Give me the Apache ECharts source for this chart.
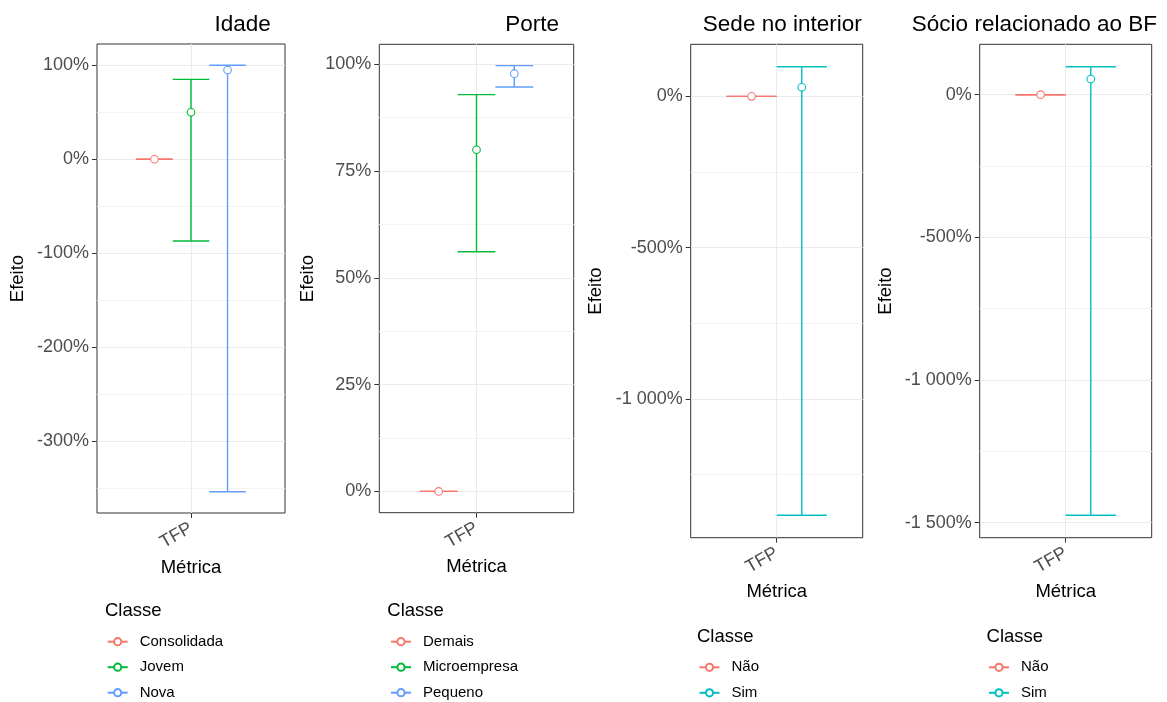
<!DOCTYPE html>
<html><head><meta charset="utf-8">
<script src="https://cdn.jsdelivr.net/npm/echarts@6/dist/echarts.min.js"></script>
<style>html,body{margin:0;padding:0;background:#fff}#c{width:1167px;height:702px}</style>
</head><body><div id="c"></div>
<script>
// ---- data ----
const categories = ['TFP'];

const idadeClasses = ['Consolidada', 'Jovem', 'Nova'];
const idadeMid  = [0, 50, 95];
const idadeLow  = [0, -87, -354];
const idadeHigh = [0, 85, 100];
const idadeTicks = [-300, -200, -100, 0, 100];
const idadeMinor = [-350, -250, -150, -50, 50];

const porteClasses = ['Demais', 'Microempresa', 'Pequeno'];
const porteMid  = [0, 80, 97.8];
const porteLow  = [0, 56.1, 94.7];
const porteHigh = [0, 92.9, 99.7];
const porteTicks = [0, 25, 50, 75, 100];
const porteMinor = [12.5, 37.5, 62.5, 87.5];

const sedeClasses = ['Não', 'Sim'];
const sedeMid  = [0, 30];
const sedeLow  = [0, -1385];
const sedeHigh = [0, 98];
const sedeTicks = [-1000, -500, 0];
const sedeMinor = [-1250, -750, -250];

const socioClasses = ['Não', 'Sim'];
const socioMid  = [0, 55];
const socioLow  = [0, -1474];
const socioHigh = [0, 98];
const socioTicks = [-1500, -1000, -500, 0];
const socioMinor = [-1250, -750, -250];

const hue3 = ['#F8766D', '#00BA38', '#619CFF'];
const hue2 = ['#F8766D', '#00BFC4'];

// ---- layout ----
const FONT = 'Liberation Sans, Arial, Helvetica, sans-serif';
const panels = [
  {title: 'Idade', classes: idadeClasses, mid: idadeMid, low: idadeLow, high: idadeHigh, ticks: idadeTicks, minor: idadeMinor, colors: hue3,
   grid: {left: 97, top: 44, width: 188, height: 469}, yGap: 70, titleRight: 270.7, legLeft: 106.7, legTitleLeft: 105, legTitleTop: 601.7, legTop: 634.2},
  {title: 'Porte', classes: porteClasses, mid: porteMid, low: porteLow, high: porteHigh, ticks: porteTicks, minor: porteMinor, colors: hue3,
   grid: {left: 379.3, top: 44.3, width: 194.4, height: 468.4}, yGap: 62, titleRight: 559, legLeft: 390, legTitleLeft: 387.3, legTitleTop: 601.7, legTop: 634.2},
  {title: 'Sede no interior', classes: sedeClasses, mid: sedeMid, low: sedeLow, high: sedeHigh, ticks: sedeTicks, minor: sedeMinor, colors: hue2,
   grid: {left: 690.7, top: 44.3, width: 172, height: 493.4}, yGap: 85, titleRight: 861.7, legLeft: 698.5, legTitleLeft: 697, legTitleTop: 627.7, legTop: 659.8},
  {title: 'Sócio relacionado ao BF', classes: socioClasses, mid: socioMid, low: socioLow, high: socioHigh, ticks: socioTicks, minor: socioMinor, colors: hue2,
   grid: {left: 979.7, top: 44.3, width: 172, height: 493.4}, yGap: 84.5, titleRight: 1157, legLeft: 988, legTitleLeft: 986.6, legTitleTop: 627.7, legTop: 659.8}
];

function pct(v) {
  const s = String(Math.abs(v)).replace(/\B(?=(\d{3})+(?!\d))/g, ' ');
  return (v < 0 ? '-' : '') + s + '%';
}

function renderErr(n, color) {
  return function (params, api) {
    const x = api.value(0), mid = api.value(1), lo = api.value(2), hi = api.value(3), gi = api.value(4);
    const unit = api.size([1, 0])[0];
    const w = 0.7 / n;
    const off = (gi - (n - 1) / 2) * w;
    const pLo = api.coord([x + off, lo]);
    const pHi = api.coord([x + off, hi]);
    const pMid = api.coord([x + off, mid]);
    const hw = w / 2 * unit;
    const ls = {stroke: color, lineWidth: 1.4};
    return {type: 'group', children: [
      {type: 'line', shape: {x1: pLo[0], y1: pLo[1], x2: pHi[0], y2: pHi[1]}, style: ls},
      {type: 'line', shape: {x1: pLo[0] - hw, y1: pLo[1], x2: pLo[0] + hw, y2: pLo[1]}, style: ls},
      {type: 'line', shape: {x1: pHi[0] - hw, y1: pHi[1], x2: pHi[0] + hw, y2: pHi[1]}, style: ls},
      {type: 'circle', shape: {cx: pMid[0], cy: pMid[1], r: 3.8}, style: {fill: '#fff', stroke: color, lineWidth: 1.1}}
    ]};
  };
}

const grid = [], xAxis = [], yAxis = [], series = [], title = [], legend = [];
panels.forEach((p, i) => {
  grid.push(Object.assign({show: true, borderColor: '#333333', borderWidth: 1, backgroundColor: '#fff', outerBoundsMode: 'none', containLabel: false}, p.grid));
  const all = p.low.concat(p.high, p.mid);
  const dmin = Math.min.apply(null, all), dmax = Math.max.apply(null, all);
  const ex = (dmax - dmin) * 0.05;
  const ymin = dmin - ex, ymax = dmax + ex;
  xAxis.push({
    type: 'value', gridIndex: i, min: -0.6, max: 0.6, position: 'bottom',
    axisLine: {show: false, onZero: false},
    axisTick: {show: true, customValues: [0], length: 5, lineStyle: {color: '#333333', width: 1}},
    axisLabel: {customValues: [0], formatter: v => categories[Math.round(v)], rotate: 30, margin: 14, fontSize: 18, color: '#4D4D4D', fontFamily: FONT},
    splitLine: {show: true, lineStyle: {color: '#EBEBEB', width: 1}},
    name: 'Métrica', nameLocation: 'middle', nameGap: i < 2 ? 43 : 44,
    nameTextStyle: {fontSize: 18.5, color: '#000', fontFamily: FONT}
  });
  yAxis.push({
    type: 'value', gridIndex: i, min: ymin, max: ymax, position: 'left',
    axisLine: {show: false, onZero: false},
    axisTick: {show: true, customValues: p.ticks, length: 5, lineStyle: {color: '#333333', width: 1}},
    axisLabel: {customValues: p.ticks, formatter: pct, margin: 8, fontSize: 18, color: '#4D4D4D', fontFamily: FONT},
    splitLine: {show: true, lineStyle: {color: '#EBEBEB', width: 1}},
    name: 'Efeito', nameLocation: 'middle', nameGap: p.yGap,
    nameTextStyle: {fontSize: 18.5, color: '#000', fontFamily: FONT}
  });
  yAxis.push({
    type: 'value', gridIndex: i, min: ymin, max: ymax, position: 'right',
    axisLine: {show: false, onZero: false},
    axisTick: {show: false, customValues: p.minor},
    axisLabel: {show: false},
    splitLine: {show: true, lineStyle: {color: '#F4F4F4', width: 1}},
    z: 0
  });
  const n = p.classes.length;
  p.classes.forEach((c, k) => {
    series.push({
      type: 'line', name: c, xAxisIndex: i, yAxisIndex: 2 * i, data: [],
      symbol: 'emptyCircle', color: p.colors[k], lineStyle: {width: 1.2, color: p.colors[k]}
    });
  });
  p.classes.forEach((c, k) => {
    series.push({
      type: 'custom', name: c, xAxisIndex: i, yAxisIndex: 2 * i, z: 5,
      color: p.colors[k],
      renderItem: renderErr(n, p.colors[k]),
      data: [[0, p.mid[k], p.low[k], p.high[k], k]],
      silent: true
    });
  });
  title.push({text: p.title, right: 1167 - p.titleRight, top: 13.3, padding: 0,
    textStyle: {fontSize: 22.5, fontWeight: 'normal', color: '#000', fontFamily: FONT}});
  title.push({text: 'Classe', left: p.legTitleLeft, top: p.legTitleTop, padding: 0,
    textStyle: {fontSize: 18.5, fontWeight: 'normal', color: '#000', fontFamily: FONT}});
  legend.push({
    data: p.classes.slice(), orient: 'vertical', left: p.legLeft, top: p.legTop, padding: 0,
    itemWidth: 20, itemHeight: 9, itemGap: 10.5, selectedMode: false,
    textStyle: {fontSize: 15, lineHeight: 15, color: '#000', fontFamily: FONT, padding: [0, 0, 0, 7]}
  });
});

const chart = echarts.init(document.getElementById('c'), null, {renderer: 'canvas'});
chart.setOption({
  backgroundColor: '#fff',
  animation: false,
  title, legend, grid, xAxis, yAxis, series
});
</script>
</body></html>
